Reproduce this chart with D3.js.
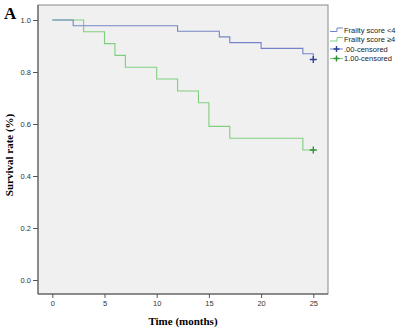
<!DOCTYPE html>
<html>
<head>
<meta charset="utf-8">
<script src="https://cdn.jsdelivr.net/npm/d3@7"></script>
<style>
body { margin: 0; background: #fff; }
svg { display: block; }
</style>
</head>
<body>
<svg id="svg" width="403" height="331"></svg>
<script>
// group 1: frailty score < 4
var lowTimes = [0, 2, 12, 16, 17, 20, 24, 25];
var lowSurv = [1.0, 0.978, 0.957, 0.935, 0.913, 0.891, 0.870, 0.848];
// group 2: frailty score >= 4
var highTimes = [0, 3, 5, 6, 7, 10, 12, 14, 15, 17, 24];
var highSurv = [1.0, 0.955, 0.909, 0.864, 0.818, 0.773, 0.727, 0.682, 0.591, 0.545, 0.5];
// censored marks
var lowCensor = [[25, 0.848]];
var highCensor = [[25, 0.5]];

var xTicks = [0, 5, 10, 15, 20, 25];
var yTicks = [0.0, 0.2, 0.4, 0.6, 0.8, 1.0];
var legendLabels = ['Frailty score <4', 'Frailty score \u22654', '.00-censored', '1.00-censored'];

var blue = '#7584c8', blueDark = '#2f3f96';
var green = '#7fcf7f', greenDark = '#2f8f3a';

var svg = d3.select('#svg');
var frame = { left: 38, top: 5, right: 328, bottom: 294 };

var x = d3.scaleLinear().domain([0, 25]).range([52.3, 313.3]);
var y = d3.scaleLinear().domain([0, 1]).range([280, 20]);

svg.append('rect')
    .attr('x', frame.left).attr('y', frame.top)
    .attr('width', frame.right - frame.left)
    .attr('height', frame.bottom - frame.top)
    .attr('fill', '#f0f0f0')
    .attr('stroke', '#8a8a8a')
    .attr('stroke-width', 1);

// axes
var xAxis = svg.append('g')
    .attr('transform', 'translate(0,' + frame.bottom + ')')
    .call(d3.axisBottom(x).tickValues(xTicks).tickSize(4).tickSizeOuter(0).tickPadding(3));
xAxis.select('.domain').remove();
xAxis.append('line')
    .attr('x1', frame.left).attr('x2', frame.right)
    .attr('stroke', '#555');

var yAxis = svg.append('g')
    .attr('transform', 'translate(' + frame.left + ',0)')
    .call(d3.axisLeft(y).tickValues(yTicks).tickFormat(d3.format('.1f')).tickSize(5).tickPadding(2));
yAxis.select('.domain').remove();
yAxis.append('line')
    .attr('y1', frame.top).attr('y2', frame.bottom)
    .attr('stroke', '#555');

svg.selectAll('.tick line').attr('stroke', '#555');
svg.selectAll('.tick text')
    .attr('fill', '#333')
    .style('font-family', 'Liberation Sans, Arial, sans-serif')
    .style('font-size', '7.5px');

// survival curves
var line = d3.line()
    .x(function(d) { return x(d[0]); })
    .y(function(d) { return y(d[1]); })
    .curve(d3.curveStepAfter);

function curveData(times, surv, end) {
    var pts = times.map(function(t, i) { return [t, surv[i]]; });
    var last = pts[pts.length - 1];
    if (last[0] < end) pts.push([end, last[1]]);
    return pts;
}

svg.append('path')
    .attr('d', line(curveData(highTimes, highSurv, 25)))
    .attr('fill', 'none')
    .attr('stroke', green)
    .attr('stroke-width', 1.1);

svg.append('path')
    .attr('d', line(curveData(lowTimes, lowSurv, 25)))
    .attr('fill', 'none')
    .attr('stroke', blue)
    .attr('stroke-width', 1.1);

function drawCross(g, cx, cy, size, color) {
    g.append('path')
        .attr('d', 'M' + (cx - size) + ',' + cy + 'H' + (cx + size) +
            'M' + cx + ',' + (cy - size) + 'V' + (cy + size))
        .attr('stroke', color)
        .attr('stroke-width', 1.4)
        .attr('fill', 'none');
}

lowCensor.forEach(function(d) { drawCross(svg, x(d[0]), y(d[1]), 3.5, blueDark); });
highCensor.forEach(function(d) { drawCross(svg, x(d[0]), y(d[1]), 3.5, greenDark); });

// legend
var legend = svg.append('g').attr('transform', 'translate(330,0)');
var legendY = [30, 39.5, 49, 58.5];
var legendColors = [blue, green, blueDark, greenDark];
legendLabels.forEach(function(label, i) {
    var ly = legendY[i];
    if (i < 2) {
        legend.append('path')
            .attr('d', 'M0,' + (ly + 1.5) + 'H7V' + (ly - 2) + 'H13')
            .attr('fill', 'none')
            .attr('stroke', legendColors[i])
            .attr('stroke-width', 1);
    } else {
        var lineColor = i == 2 ? blue : green;
        legend.append('line')
            .attr('x1', 0).attr('x2', 13)
            .attr('y1', ly).attr('y2', ly)
            .attr('stroke', lineColor);
        drawCross(legend, 6.5, ly, 3, legendColors[i]);
    }
    legend.append('text')
        .attr('x', 14)
        .attr('y', ly + 2.6)
        .attr('fill', '#222')
        .style('font-family', 'Liberation Sans, Arial, sans-serif')
        .style('font-size', '7.5px')
        .text(label);
});

// titles
svg.append('text')
    .attr('x', 183)
    .attr('y', 325)
    .attr('text-anchor', 'middle')
    .style('font-family', 'Liberation Serif, Times New Roman, serif')
    .style('font-weight', 'bold')
    .style('font-size', '11px')
    .text('Time (months)');

svg.append('text')
    .attr('transform', 'translate(13,155) rotate(-90)')
    .attr('text-anchor', 'middle')
    .style('font-family', 'Liberation Serif, Times New Roman, serif')
    .style('font-weight', 'bold')
    .style('font-size', '11px')
    .text('Survival rate (%)');

svg.append('text')
    .attr('x', 4)
    .attr('y', 19)
    .style('font-family', 'Liberation Serif, Times New Roman, serif')
    .style('font-weight', 'bold')
    .style('font-size', '17px')
    .text('A');
</script>
</body>
</html>
